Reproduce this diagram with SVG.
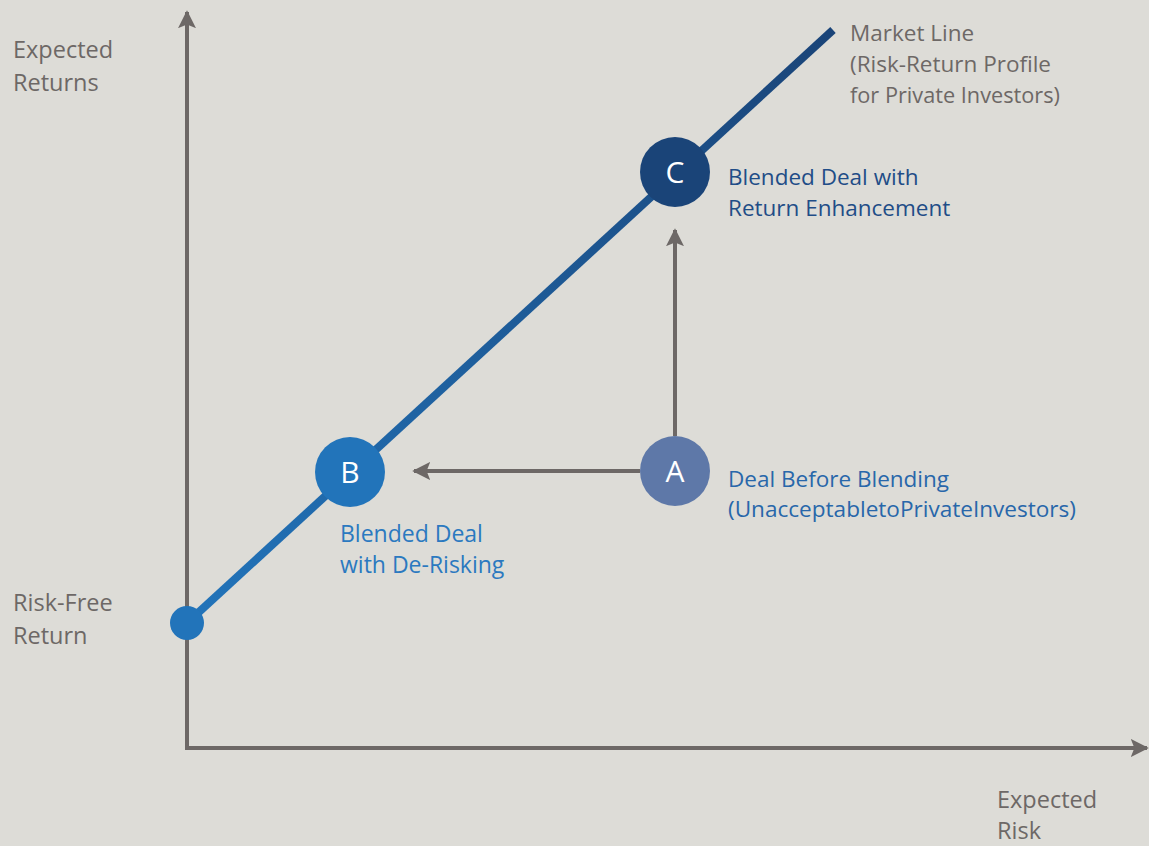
<svg xmlns="http://www.w3.org/2000/svg" width="1149" height="846" viewBox="0 0 1149 846">
<style>
.ax{fill:#6d6866;font-family:"Open Sans","Liberation Sans",sans-serif;font-size:23.5px}
.lb{font-family:"Open Sans","Liberation Sans",sans-serif;font-size:22.5px}
.nt{fill:#ffffff;font-family:"Open Sans","Liberation Sans",sans-serif;font-size:30px;text-anchor:middle}
.axis{stroke:#6d6866;stroke-width:4;fill:none}
</style>
<defs>
<marker id="ah" viewBox="0 0 10 10" refX="9" refY="5" markerWidth="4.5" markerHeight="4.5" orient="auto" markerUnits="strokeWidth">
<path d="M0,0 L10,5 L0,10 L2,5 Z" fill="#6d6866"/>
</marker>
<linearGradient id="lg" gradientUnits="userSpaceOnUse" x1="187" y1="623" x2="833" y2="30">
<stop offset="0" stop-color="#2274ba"/>
<stop offset="1" stop-color="#1a4478"/>
</linearGradient>
</defs>
<rect width="1149" height="846" fill="#dddcd7"/>
<g id="connectors">
<line class="axis" x1="187" y1="750" x2="187" y2="12" marker-end="url(#ah)"/>
<line class="axis" x1="185" y1="748" x2="1147" y2="748" marker-end="url(#ah)"/>
<line x1="187" y1="623" x2="833" y2="30" stroke="url(#lg)" stroke-width="8"/>
<line class="axis" x1="640" y1="471" x2="414" y2="471" marker-end="url(#ah)"/>
<line class="axis" x1="675" y1="436" x2="675" y2="230" marker-end="url(#ah)"/>
</g>
<g id="axis-labels">
<text class="ax" x="13" y="58">Expected</text>
<text class="ax" x="13" y="91">Returns</text>
<text class="ax" x="997" y="808">Expected</text>
<text class="ax" x="997" y="839">Risk</text>
<text class="ax" x="13" y="611">Risk-Free</text>
<text class="ax" x="13" y="644">Return</text>
</g>
<g id="market-line-label">
<text class="lb" x="850" y="41" fill="#6d6866">Market Line</text>
<text class="lb" x="850" y="72" fill="#6d6866">(Risk-Return Profile</text>
<text class="lb" x="850" y="103" fill="#6d6866" textLength="210" lengthAdjust="spacingAndGlyphs">for Private Investors)</text>
</g>
<g id="node-riskfree">
<circle cx="187" cy="623" r="17" fill="#2274ba"/>
</g>
<g id="node-B">
<circle cx="350" cy="472" r="35" fill="#2274ba"/>
<text class="nt" x="350" y="483">B</text>
<text class="lb" x="340" y="542" fill="#2b79c0" style="font-size:23px">Blended Deal</text>
<text class="lb" x="340" y="573" fill="#2b79c0" style="font-size:23px">with De-Risking</text>
</g>
<g id="node-A">
<circle cx="675" cy="471" r="35" fill="#5e78a8"/>
<text class="nt" x="675" y="482">A</text>
<text class="lb" x="728" y="487" fill="#2867aa">Deal Before Blending</text>
<text class="lb" x="728" y="517" fill="#2867aa" textLength="348" lengthAdjust="spacingAndGlyphs">(UnacceptabletoPrivateInvestors)</text>
</g>
<g id="node-C">
<circle cx="675" cy="172" r="35" fill="#1a4478"/>
<text class="nt" x="675" y="183">C</text>
<text class="lb" x="728" y="185" fill="#1f4d87">Blended Deal with</text>
<text class="lb" x="728" y="216" fill="#1f4d87">Return Enhancement</text>
</g>
</svg>
